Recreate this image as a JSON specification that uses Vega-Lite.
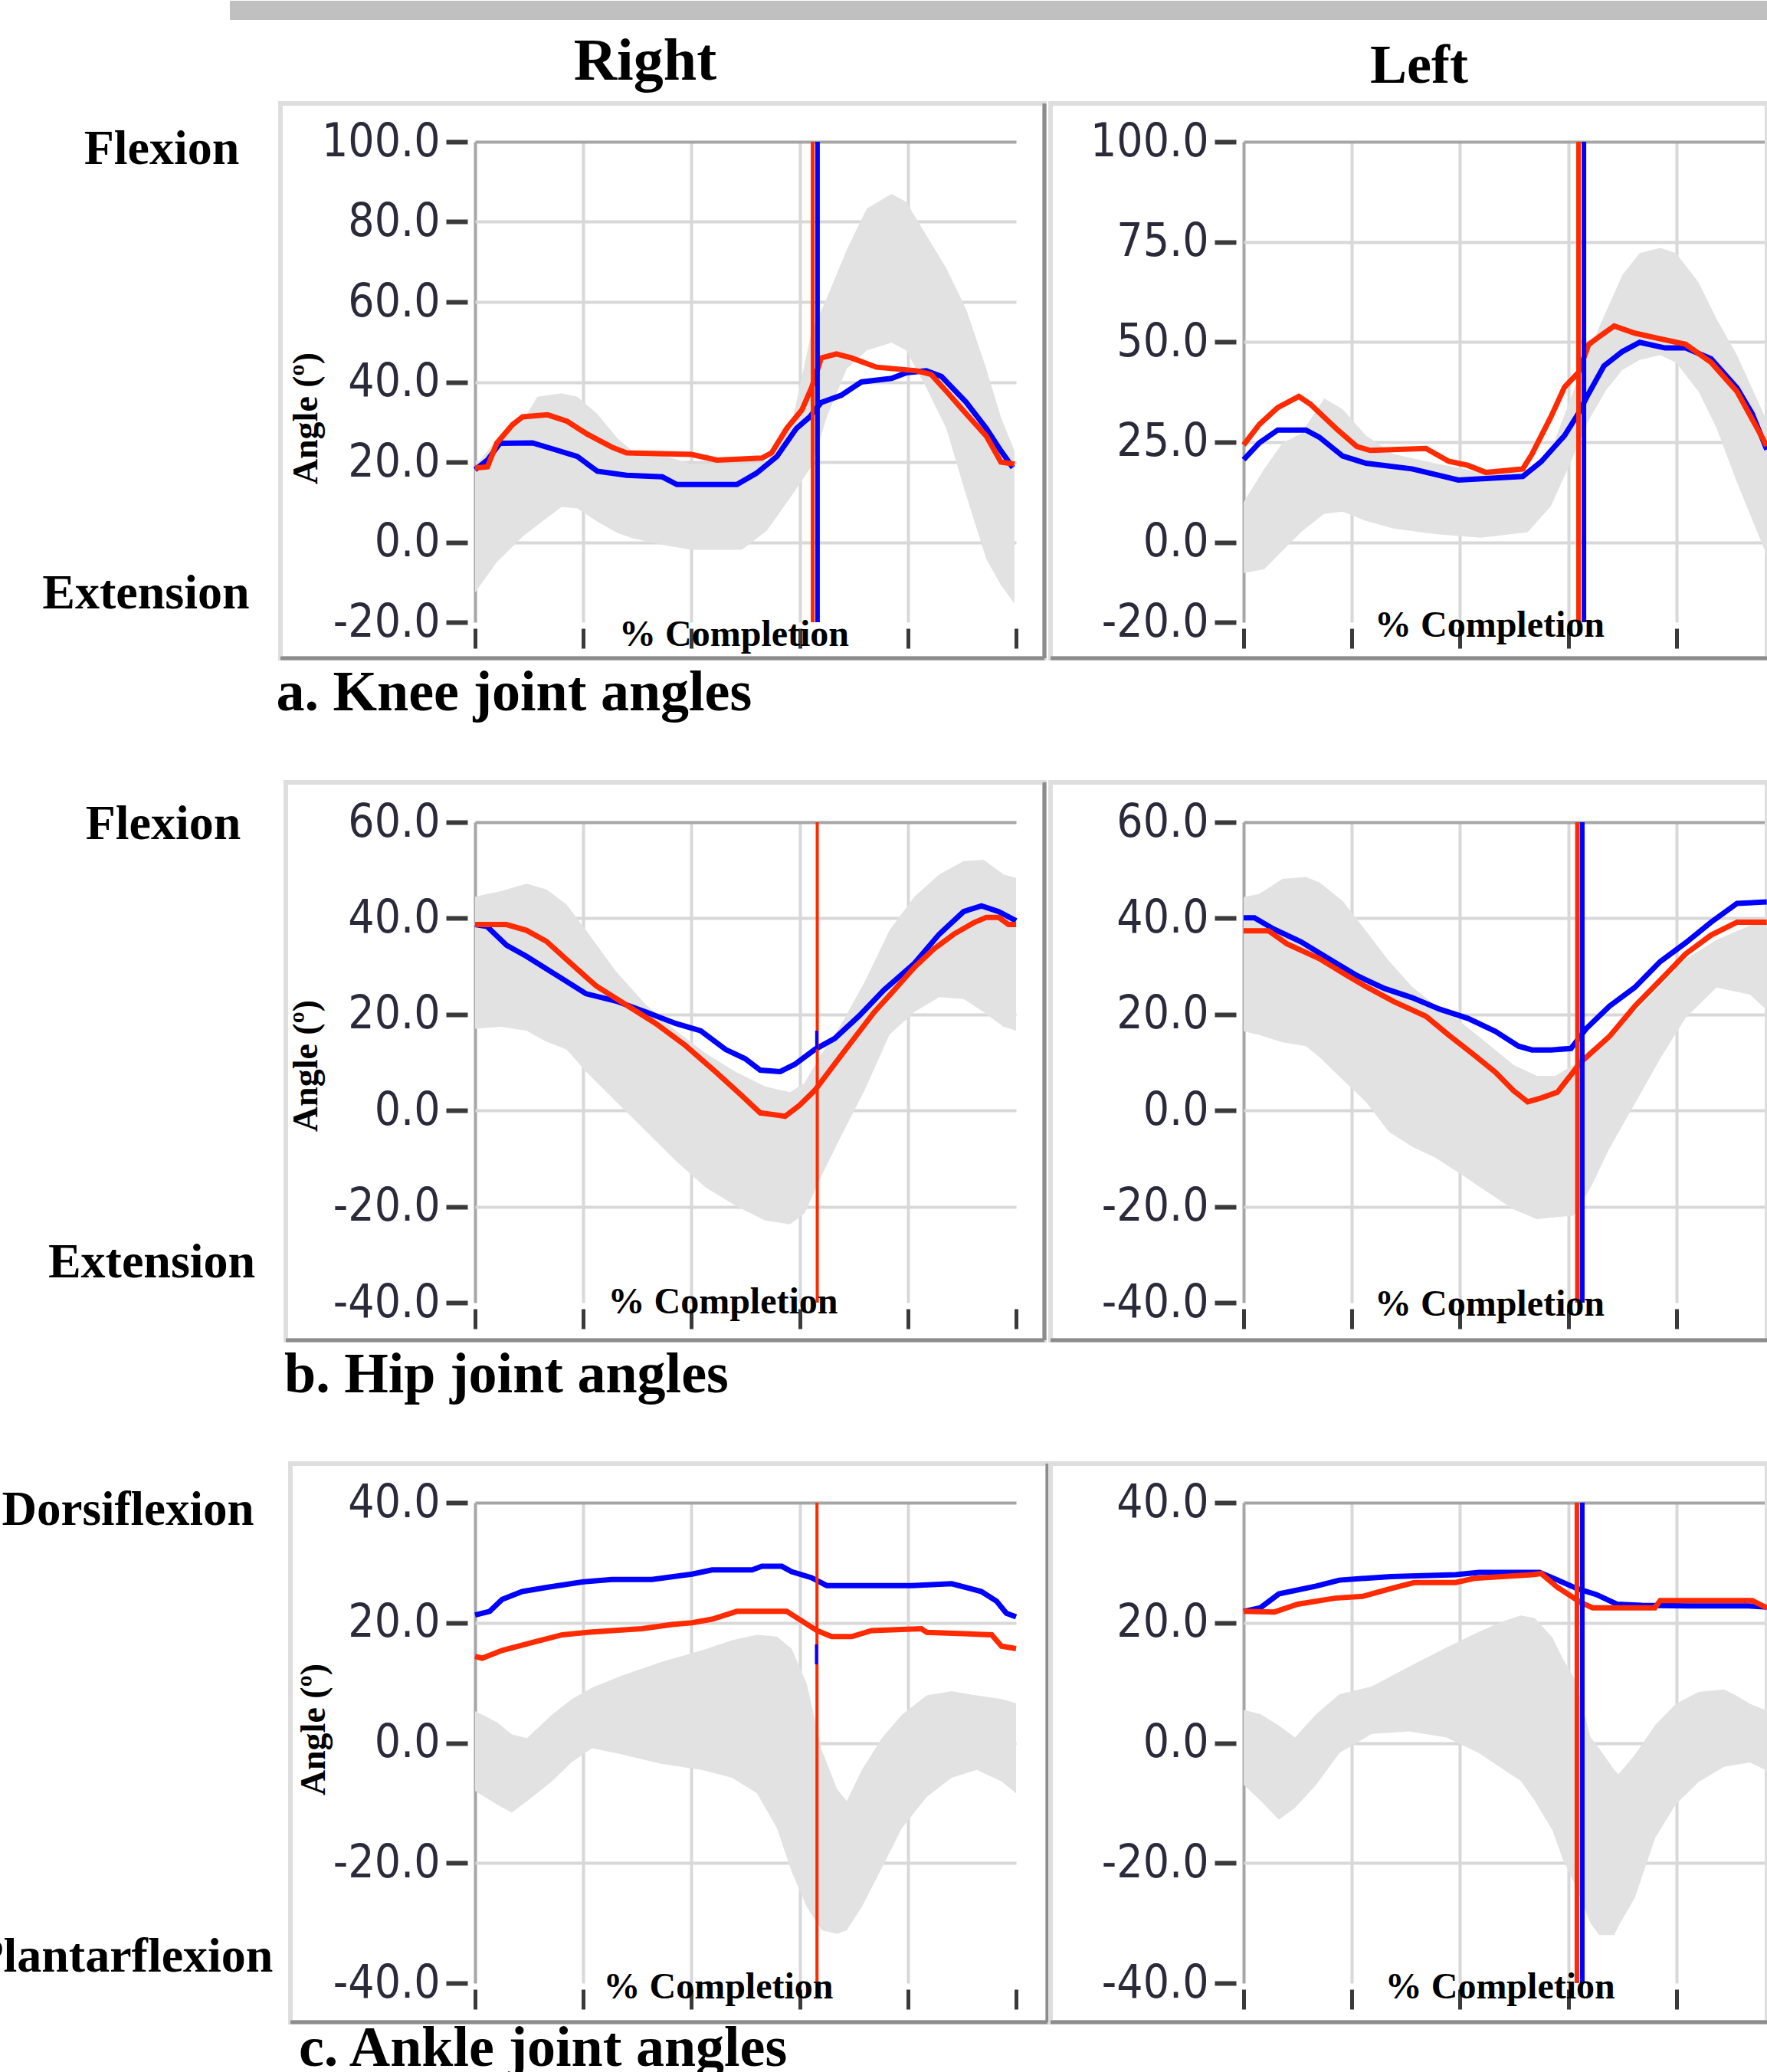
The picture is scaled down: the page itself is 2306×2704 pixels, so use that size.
{
  "$schema": "https://vega.github.io/schema/vega-lite/v6.json",
  "background": "white",
  "padding": {"left": -35, "top": 0, "right": -4, "bottom": -6},
  "config": {"view": {"stroke": null}, "axisY": {"labelFont": "DejaVu Sans Condensed", "labelFontSize": 60, "labelLimit": 0, "labelColor": "#2a2a3a", "labelOverlap": false, "labelPadding": 8}},
  "columns": 2,
  "bounds": "flush",
  "spacing": {"row": 261, "column": 297},
  "datasets": {
    "knee_r_band": [
      {"pct": 0, "lo": -12.6, "hi": 19}, {"pct": 4, "lo": -5, "hi": 25.6}, {"pct": 8.8, "lo": 1.4, "hi": 30.2}, {"pct": 11.5, "lo": 4.2, "hi": 36.3},
      {"pct": 16, "lo": 8.8, "hi": 37.2}, {"pct": 18.9, "lo": 8.4, "hi": 36.3}, {"pct": 22.6, "lo": 5.1, "hi": 32}, {"pct": 26.3, "lo": 2.3, "hi": 26},
      {"pct": 29, "lo": 1, "hi": 22.8}, {"pct": 35.5, "lo": -0.9, "hi": 21.4}, {"pct": 40, "lo": -1.9, "hi": 19.5}, {"pct": 49.3, "lo": -1.9, "hi": 19.5},
      {"pct": 53.9, "lo": 2.8, "hi": 20}, {"pct": 58.5, "lo": 11.6, "hi": 29.3}, {"pct": 62.2, "lo": 19, "hi": 52.6}, {"pct": 65, "lo": 31.2, "hi": 60.9},
      {"pct": 68.7, "lo": 43.3, "hi": 73}, {"pct": 72.4, "lo": 47.9, "hi": 83.3}, {"pct": 77, "lo": 49.8, "hi": 87}, {"pct": 79.7, "lo": 47.9, "hi": 85},
      {"pct": 83.4, "lo": 38.6, "hi": 76.7}, {"pct": 87.1, "lo": 28.4, "hi": 68.4}, {"pct": 90.8, "lo": 11.6, "hi": 58.1}, {"pct": 94.5, "lo": -4.2, "hi": 43.3},
      {"pct": 97.2, "lo": -10.7, "hi": 31.2}, {"pct": 99.7, "lo": -15.3, "hi": 22.8}
    ],
    "knee_r_lines": [
      {"pct": 0, "series": "S1", "angle": 18.1}, {"pct": 2.3, "series": "S1", "angle": 20.5}, {"pct": 4.6, "series": "S1", "angle": 24.7}, {"pct": 10.6, "series": "S1", "angle": 24.8},
      {"pct": 14.3, "series": "S1", "angle": 23.3}, {"pct": 18.9, "series": "S1", "angle": 21.4}, {"pct": 22.6, "series": "S1", "angle": 17.7}, {"pct": 28, "series": "S1", "angle": 16.7},
      {"pct": 34.6, "series": "S1", "angle": 16.3}, {"pct": 37.3, "series": "S1", "angle": 14.4}, {"pct": 48.4, "series": "S1", "angle": 14.4}, {"pct": 52, "series": "S1", "angle": 17.2},
      {"pct": 55.8, "series": "S1", "angle": 21.4}, {"pct": 59.4, "series": "S1", "angle": 28.4}, {"pct": 61.8, "series": "S1", "angle": 31.2}, {"pct": 64, "series": "S1", "angle": 34.9},
      {"pct": 67.7, "series": "S1", "angle": 36.7}, {"pct": 71.4, "series": "S1", "angle": 40}, {"pct": 77, "series": "S1", "angle": 40.9}, {"pct": 79.7, "series": "S1", "angle": 42.3},
      {"pct": 83.4, "series": "S1", "angle": 42.8}, {"pct": 86.2, "series": "S1", "angle": 41.4}, {"pct": 90.8, "series": "S1", "angle": 34.9}, {"pct": 94.5, "series": "S1", "angle": 28.4},
      {"pct": 97.2, "series": "S1", "angle": 22.8}, {"pct": 99.4, "series": "S1", "angle": 18.6},
      {"pct": 0, "series": "S2", "angle": 18.5}, {"pct": 2.3, "series": "S2", "angle": 18.8}, {"pct": 4, "series": "S2", "angle": 24.7}, {"pct": 6.9, "series": "S2", "angle": 29.3},
      {"pct": 8.8, "series": "S2", "angle": 31.3}, {"pct": 13.4, "series": "S2", "angle": 31.8}, {"pct": 17, "series": "S2", "angle": 30.2}, {"pct": 20.7, "series": "S2", "angle": 27},
      {"pct": 25.3, "series": "S2", "angle": 23.7}, {"pct": 28, "series": "S2", "angle": 22.3}, {"pct": 40, "series": "S2", "angle": 21.9}, {"pct": 44.7, "series": "S2", "angle": 20.5},
      {"pct": 53, "series": "S2", "angle": 21}, {"pct": 54.8, "series": "S2", "angle": 22.3}, {"pct": 57.6, "series": "S2", "angle": 28.4}, {"pct": 60.4, "series": "S2", "angle": 33},
      {"pct": 62.2, "series": "S2", "angle": 38.6}, {"pct": 64, "series": "S2", "angle": 46}, {"pct": 66.8, "series": "S2", "angle": 47}, {"pct": 69.6, "series": "S2", "angle": 46},
      {"pct": 74.2, "series": "S2", "angle": 43.7}, {"pct": 81.6, "series": "S2", "angle": 42.8}, {"pct": 84.3, "series": "S2", "angle": 41.9}, {"pct": 87.1, "series": "S2", "angle": 37.7},
      {"pct": 90.8, "series": "S2", "angle": 32}, {"pct": 94.5, "series": "S2", "angle": 26.5}, {"pct": 97.2, "series": "S2", "angle": 20}, {"pct": 99.7, "series": "S2", "angle": 19.5}
    ],
    "knee_l_band": [
      {"pct": 0, "lo": -7.7, "hi": 10}, {"pct": 3.8, "lo": -6.8, "hi": 18.3}, {"pct": 7.2, "lo": -2.1, "hi": 24.8}, {"pct": 10.6, "lo": 2.5, "hi": 27.1},
      {"pct": 14.9, "lo": 7.1, "hi": 35.9}, {"pct": 18.3, "lo": 7.6, "hi": 33.2}, {"pct": 22.6, "lo": 5.3, "hi": 26.6}, {"pct": 27.7, "lo": 3.4, "hi": 22},
      {"pct": 35.4, "lo": 2, "hi": 19.7}, {"pct": 43.9, "lo": 1.1, "hi": 17.4}, {"pct": 52.5, "lo": 2.5, "hi": 18.3}, {"pct": 56.8, "lo": 9, "hi": 22.9},
      {"pct": 60.2, "lo": 19.2, "hi": 35}, {"pct": 63.6, "lo": 30, "hi": 47.1}, {"pct": 67, "lo": 38, "hi": 57.6}, {"pct": 70, "lo": 43, "hi": 66.7},
      {"pct": 73.2, "lo": 45.5, "hi": 72.2}, {"pct": 77, "lo": 46.7, "hi": 73.5}, {"pct": 79.9, "lo": 44.9, "hi": 72.2}, {"pct": 84.1, "lo": 37.6, "hi": 64.9},
      {"pct": 87.4, "lo": 28.5, "hi": 55.8}, {"pct": 91.2, "lo": 14.9, "hi": 46.7}, {"pct": 96.7, "lo": -3.3, "hi": 30.3}
    ],
    "knee_l_lines": [
      {"pct": 0, "series": "S1", "angle": 20.6}, {"pct": 2.9, "series": "S1", "angle": 24.8}, {"pct": 6.3, "series": "S1", "angle": 28}, {"pct": 11.5, "series": "S1", "angle": 28},
      {"pct": 14, "series": "S1", "angle": 26.2}, {"pct": 18.3, "series": "S1", "angle": 21.5}, {"pct": 22.6, "series": "S1", "angle": 19.7}, {"pct": 31.1, "series": "S1", "angle": 18.3},
      {"pct": 35.4, "series": "S1", "angle": 16.9}, {"pct": 39.7, "series": "S1", "angle": 15.5}, {"pct": 51.6, "series": "S1", "angle": 16.4}, {"pct": 55, "series": "S1", "angle": 20.1},
      {"pct": 59.3, "series": "S1", "angle": 26.6}, {"pct": 61.9, "series": "S1", "angle": 32.2}, {"pct": 63.6, "series": "S1", "angle": 36.7}, {"pct": 66.6, "series": "S1", "angle": 44},
      {"pct": 70, "series": "S1", "angle": 47.6}, {"pct": 73.2, "series": "S1", "angle": 49.9}, {"pct": 77.9, "series": "S1", "angle": 48.5}, {"pct": 81.7, "series": "S1", "angle": 48.5},
      {"pct": 86.4, "series": "S1", "angle": 45.8}, {"pct": 91.2, "series": "S1", "angle": 38.5}, {"pct": 94, "series": "S1", "angle": 32.1}, {"pct": 96.7, "series": "S1", "angle": 23.1},
      {"pct": 0, "series": "S2", "angle": 24.3}, {"pct": 2.9, "series": "S2", "angle": 29.4}, {"pct": 6.3, "series": "S2", "angle": 33.6}, {"pct": 10.2, "series": "S2", "angle": 36.4},
      {"pct": 12.3, "series": "S2", "angle": 34.5}, {"pct": 17.4, "series": "S2", "angle": 28}, {"pct": 20.9, "series": "S2", "angle": 23.9}, {"pct": 23.4, "series": "S2", "angle": 22.9},
      {"pct": 33.7, "series": "S2", "angle": 23.4}, {"pct": 37.9, "series": "S2", "angle": 20.2}, {"pct": 41.4, "series": "S2", "angle": 19.2}, {"pct": 44.8, "series": "S2", "angle": 17.4},
      {"pct": 51.6, "series": "S2", "angle": 18.3}, {"pct": 53.3, "series": "S2", "angle": 22}, {"pct": 56.8, "series": "S2", "angle": 31.3}, {"pct": 59.3, "series": "S2", "angle": 38.7},
      {"pct": 61.9, "series": "S2", "angle": 42.4}, {"pct": 63.8, "series": "S2", "angle": 49.4}, {"pct": 65.7, "series": "S2", "angle": 51.3}, {"pct": 68.5, "series": "S2", "angle": 54},
      {"pct": 72.3, "series": "S2", "angle": 52.2}, {"pct": 77, "series": "S2", "angle": 50.8}, {"pct": 81.7, "series": "S2", "angle": 49.4}, {"pct": 86.4, "series": "S2", "angle": 44.9},
      {"pct": 91.2, "series": "S2", "angle": 37.6}, {"pct": 94.9, "series": "S2", "angle": 28.5}, {"pct": 96.7, "series": "S2", "angle": 24}
    ],
    "hip_r_band": [
      {"pct": 0, "lo": 17, "hi": 44.5}, {"pct": 4.9, "lo": 17.4, "hi": 45.7}, {"pct": 9.5, "lo": 16.6, "hi": 47.2}, {"pct": 13.2, "lo": 14.3, "hi": 46},
      {"pct": 16.9, "lo": 12.7, "hi": 42.9}, {"pct": 20.5, "lo": 8.1, "hi": 37.5}, {"pct": 26, "lo": 1.9, "hi": 29}, {"pct": 31.6, "lo": -4.3, "hi": 22},
      {"pct": 37.1, "lo": -10.5, "hi": 16.6}, {"pct": 42.6, "lo": -16, "hi": 11.9}, {"pct": 48.1, "lo": -19.8, "hi": 8.1}, {"pct": 53.6, "lo": -22.9, "hi": 5},
      {"pct": 58.2, "lo": -23.7, "hi": 3.8}, {"pct": 60.9, "lo": -21.4, "hi": 5.7}, {"pct": 63.7, "lo": -14.4, "hi": 11.2}, {"pct": 67.4, "lo": -5.9, "hi": 17.4},
      {"pct": 72, "lo": 4.2, "hi": 26.7}, {"pct": 76.6, "lo": 15.8, "hi": 37.5}, {"pct": 81.2, "lo": 20.5, "hi": 44.5}, {"pct": 85.8, "lo": 23.6, "hi": 49.1},
      {"pct": 90.3, "lo": 23.2, "hi": 51.9}, {"pct": 94, "lo": 20.5, "hi": 52.2}, {"pct": 97.7, "lo": 17.4, "hi": 49.1}, {"pct": 100, "lo": 16.6, "hi": 48.4}
    ],
    "hip_r_lines": [
      {"pct": 0, "series": "S1", "angle": 38.7}, {"pct": 2.2, "series": "S1", "angle": 38.3}, {"pct": 5.8, "series": "S1", "angle": 34.4}, {"pct": 9.5, "series": "S1", "angle": 32.1},
      {"pct": 15, "series": "S1", "angle": 28.2}, {"pct": 20.5, "series": "S1", "angle": 24.3}, {"pct": 26, "series": "S1", "angle": 22.8}, {"pct": 31.6, "series": "S1", "angle": 20.5},
      {"pct": 37.1, "series": "S1", "angle": 18.1}, {"pct": 41.7, "series": "S1", "angle": 16.6}, {"pct": 46.3, "series": "S1", "angle": 12.7}, {"pct": 49.9, "series": "S1", "angle": 10.8},
      {"pct": 52.7, "series": "S1", "angle": 8.4}, {"pct": 56.4, "series": "S1", "angle": 8.1}, {"pct": 59.1, "series": "S1", "angle": 9.6}, {"pct": 62.8, "series": "S1", "angle": 12.7},
      {"pct": 66.5, "series": "S1", "angle": 15}, {"pct": 71, "series": "S1", "angle": 19.7}, {"pct": 75.6, "series": "S1", "angle": 25.1}, {"pct": 81.1, "series": "S1", "angle": 30.5},
      {"pct": 85.8, "series": "S1", "angle": 36.7}, {"pct": 90.3, "series": "S1", "angle": 41.4}, {"pct": 93.6, "series": "S1", "angle": 42.6}, {"pct": 96.8, "series": "S1", "angle": 41.4},
      {"pct": 100, "series": "S1", "angle": 39.5},
      {"pct": 0, "series": "S2", "angle": 38.7}, {"pct": 5.8, "series": "S2", "angle": 38.7}, {"pct": 9.5, "series": "S2", "angle": 37.5}, {"pct": 13.2, "series": "S2", "angle": 35.2},
      {"pct": 17.8, "series": "S2", "angle": 30.5}, {"pct": 22.4, "series": "S2", "angle": 25.9}, {"pct": 27.9, "series": "S2", "angle": 22}, {"pct": 33.4, "series": "S2", "angle": 18.1},
      {"pct": 38.9, "series": "S2", "angle": 13.5}, {"pct": 44.4, "series": "S2", "angle": 8.1}, {"pct": 49, "series": "S2", "angle": 3.4}, {"pct": 52.7, "series": "S2", "angle": -0.5},
      {"pct": 57.3, "series": "S2", "angle": -1.2}, {"pct": 60, "series": "S2", "angle": 1.1}, {"pct": 62.8, "series": "S2", "angle": 4.2}, {"pct": 68.3, "series": "S2", "angle": 12.4},
      {"pct": 73.8, "series": "S2", "angle": 20.5}, {"pct": 77.5, "series": "S2", "angle": 25.1}, {"pct": 81.2, "series": "S2", "angle": 29.8}, {"pct": 84.8, "series": "S2", "angle": 33.6},
      {"pct": 88.5, "series": "S2", "angle": 36.7}, {"pct": 92.2, "series": "S2", "angle": 39.1}, {"pct": 94.5, "series": "S2", "angle": 40.2}, {"pct": 96.8, "series": "S2", "angle": 40.2},
      {"pct": 98.6, "series": "S2", "angle": 38.7}, {"pct": 100, "series": "S2", "angle": 38.7}
    ],
    "hip_l_band": [
      {"pct": 0, "lo": 16.5, "hi": 44.4}, {"pct": 2.9, "lo": 15.7, "hi": 45.1}, {"pct": 7.2, "lo": 14.2, "hi": 48.2}, {"pct": 11.5, "lo": 13.4, "hi": 48.6},
      {"pct": 14, "lo": 11.1, "hi": 47.5}, {"pct": 18.3, "lo": 6.4, "hi": 43.6}, {"pct": 22.6, "lo": 1.8, "hi": 37.4}, {"pct": 26.8, "lo": -4.4, "hi": 31.2},
      {"pct": 31.1, "lo": -7.5, "hi": 25.8}, {"pct": 35.4, "lo": -9.8, "hi": 21.9}, {"pct": 39.7, "lo": -12.9, "hi": 18.8}, {"pct": 44.8, "lo": -16.8, "hi": 14.2},
      {"pct": 49.9, "lo": -20.6, "hi": 9.5}, {"pct": 54.2, "lo": -22.6, "hi": 7.2}, {"pct": 57.6, "lo": -22.2, "hi": 7.2}, {"pct": 61, "lo": -21.9, "hi": 9.5},
      {"pct": 64.3, "lo": -15.7, "hi": 13}, {"pct": 67.6, "lo": -7.9, "hi": 15.4}, {"pct": 72.3, "lo": 1.4, "hi": 20.5}, {"pct": 77, "lo": 10.8, "hi": 26},
      {"pct": 81.7, "lo": 19.3, "hi": 31.5}, {"pct": 87.4, "lo": 25.6, "hi": 35.5}, {"pct": 93.6, "lo": 24.1, "hi": 38.5}, {"pct": 96.7, "lo": 20.9, "hi": 39}
    ],
    "hip_l_lines": [
      {"pct": 0, "series": "S1", "angle": 40.1}, {"pct": 2, "series": "S1", "angle": 40.1}, {"pct": 5.5, "series": "S1", "angle": 37.8}, {"pct": 10.6, "series": "S1", "angle": 35.1},
      {"pct": 15.7, "series": "S1", "angle": 31.6}, {"pct": 20.9, "series": "S1", "angle": 28.1}, {"pct": 26, "series": "S1", "angle": 25.4}, {"pct": 31.1, "series": "S1", "angle": 23.5},
      {"pct": 36.2, "series": "S1", "angle": 21.1}, {"pct": 41.4, "series": "S1", "angle": 19.2}, {"pct": 46.5, "series": "S1", "angle": 16.5}, {"pct": 50.8, "series": "S1", "angle": 13.4},
      {"pct": 53.3, "series": "S1", "angle": 12.6}, {"pct": 56.8, "series": "S1", "angle": 12.6}, {"pct": 60.5, "series": "S1", "angle": 12.9}, {"pct": 63.3, "series": "S1", "angle": 17},
      {"pct": 67.6, "series": "S1", "angle": 21.7}, {"pct": 72.3, "series": "S1", "angle": 25.6}, {"pct": 77, "series": "S1", "angle": 31}, {"pct": 81.7, "series": "S1", "angle": 34.9},
      {"pct": 86.4, "series": "S1", "angle": 39.2}, {"pct": 91.2, "series": "S1", "angle": 43.1}, {"pct": 96.7, "series": "S1", "angle": 43.4},
      {"pct": 0, "series": "S2", "angle": 37.4}, {"pct": 4.6, "series": "S2", "angle": 37.4}, {"pct": 8, "series": "S2", "angle": 34.7}, {"pct": 14, "series": "S2", "angle": 31.6},
      {"pct": 19.1, "series": "S2", "angle": 28.1}, {"pct": 22.6, "series": "S2", "angle": 25.8}, {"pct": 27.7, "series": "S2", "angle": 22.7}, {"pct": 33.7, "series": "S2", "angle": 19.6},
      {"pct": 37.9, "series": "S2", "angle": 15.7}, {"pct": 42.2, "series": "S2", "angle": 11.9}, {"pct": 46.5, "series": "S2", "angle": 8}, {"pct": 49.9, "series": "S2", "angle": 4.1},
      {"pct": 52.5, "series": "S2", "angle": 1.8}, {"pct": 55, "series": "S2", "angle": 2.6}, {"pct": 58, "series": "S2", "angle": 3.8}, {"pct": 62.3, "series": "S2", "angle": 10},
      {"pct": 67.6, "series": "S2", "angle": 15.4}, {"pct": 72.3, "series": "S2", "angle": 21.7}, {"pct": 77, "series": "S2", "angle": 27.1}, {"pct": 81.7, "series": "S2", "angle": 32.6},
      {"pct": 86.4, "series": "S2", "angle": 36.5}, {"pct": 91.2, "series": "S2", "angle": 39.2}, {"pct": 96.7, "series": "S2", "angle": 39.2}
    ],
    "ankle_r_band": [
      {"pct": 0, "lo": -8, "hi": 5.3}, {"pct": 4.1, "lo": -10.3, "hi": 3.4}, {"pct": 6.8, "lo": -11.6, "hi": 1.4}, {"pct": 9.6, "lo": -9.7, "hi": 0.8},
      {"pct": 14.2, "lo": -6.4, "hi": 4.7}, {"pct": 17.9, "lo": -3.2, "hi": 7.3}, {"pct": 21.6, "lo": -0.9, "hi": 9.2}, {"pct": 27.1, "lo": -1.9, "hi": 11.2},
      {"pct": 34.5, "lo": -3.5, "hi": 13.5}, {"pct": 41.9, "lo": -4.5, "hi": 15.4}, {"pct": 47.5, "lo": -5.8, "hi": 17.1}, {"pct": 52.1, "lo": -8.4, "hi": 18},
      {"pct": 55.8, "lo": -14.2, "hi": 17.7}, {"pct": 58.5, "lo": -21.4, "hi": 15.7}, {"pct": 61.3, "lo": -27.3, "hi": 9.9}, {"pct": 64.1, "lo": -31.2, "hi": -1.2},
      {"pct": 66.9, "lo": -31.8, "hi": -7.7}, {"pct": 68.7, "lo": -31.2, "hi": -9.7}, {"pct": 71.5, "lo": -27.3, "hi": -4.5}, {"pct": 75.2, "lo": -20.8, "hi": 0.8},
      {"pct": 78.9, "lo": -14.2, "hi": 4.7}, {"pct": 83.5, "lo": -9, "hi": 7.9}, {"pct": 88.1, "lo": -5.8, "hi": 8.6}, {"pct": 92.7, "lo": -4.5, "hi": 7.9},
      {"pct": 97.3, "lo": -6.4, "hi": 7.3}, {"pct": 100, "lo": -8.4, "hi": 6.6}
    ],
    "ankle_r_lines": [
      {"pct": 0, "series": "S1", "angle": 21.3}, {"pct": 2.7, "series": "S1", "angle": 21.9}, {"pct": 5, "series": "S1", "angle": 23.9}, {"pct": 8.7, "series": "S1", "angle": 25.2},
      {"pct": 13.3, "series": "S1", "angle": 25.9}, {"pct": 19.8, "series": "S1", "angle": 26.8}, {"pct": 25.3, "series": "S1", "angle": 27.2}, {"pct": 32.7, "series": "S1", "angle": 27.2},
      {"pct": 40.1, "series": "S1", "angle": 28.1}, {"pct": 43.8, "series": "S1", "angle": 28.8}, {"pct": 51.2, "series": "S1", "angle": 28.8}, {"pct": 53, "series": "S1", "angle": 29.4},
      {"pct": 56.7, "series": "S1", "angle": 29.4}, {"pct": 58.5, "series": "S1", "angle": 28.5}, {"pct": 62.2, "series": "S1", "angle": 27.5}, {"pct": 65, "series": "S1", "angle": 26.2},
      {"pct": 80.7, "series": "S1", "angle": 26.2}, {"pct": 88.1, "series": "S1", "angle": 26.5}, {"pct": 93.6, "series": "S1", "angle": 25.2}, {"pct": 96.4, "series": "S1", "angle": 23.6},
      {"pct": 98.2, "series": "S1", "angle": 21.6}, {"pct": 100, "series": "S1", "angle": 21},
      {"pct": 0, "series": "S2", "angle": 14.4}, {"pct": 1.3, "series": "S2", "angle": 14.1}, {"pct": 5, "series": "S2", "angle": 15.4}, {"pct": 10.5, "series": "S2", "angle": 16.7},
      {"pct": 16.1, "series": "S2", "angle": 18}, {"pct": 20.7, "series": "S2", "angle": 18.4}, {"pct": 25.3, "series": "S2", "angle": 18.7}, {"pct": 30.8, "series": "S2", "angle": 19},
      {"pct": 36.4, "series": "S2", "angle": 19.7}, {"pct": 40.1, "series": "S2", "angle": 20}, {"pct": 43.8, "series": "S2", "angle": 20.6}, {"pct": 48.4, "series": "S2", "angle": 21.9},
      {"pct": 57.6, "series": "S2", "angle": 21.9}, {"pct": 60.4, "series": "S2", "angle": 20.3}, {"pct": 63.2, "series": "S2", "angle": 18.7}, {"pct": 65.9, "series": "S2", "angle": 17.7},
      {"pct": 69.6, "series": "S2", "angle": 17.7}, {"pct": 73.3, "series": "S2", "angle": 18.7}, {"pct": 82.5, "series": "S2", "angle": 19}, {"pct": 83.5, "series": "S2", "angle": 18.4},
      {"pct": 95.5, "series": "S2", "angle": 18}, {"pct": 97.3, "series": "S2", "angle": 16.1}, {"pct": 100, "series": "S2", "angle": 15.7}
    ],
    "ankle_l_band": [
      {"pct": 0, "lo": -7, "hi": 5.5}, {"pct": 3.1, "lo": -9.6, "hi": 4.8}, {"pct": 6.5, "lo": -12.8, "hi": 2.9}, {"pct": 9.5, "lo": -10.8, "hi": 0.9},
      {"pct": 13.4, "lo": -7, "hi": 4.8}, {"pct": 17.7, "lo": -1.7, "hi": 8.1}, {"pct": 23.7, "lo": 1.5, "hi": 9.4}, {"pct": 30.6, "lo": 1.9, "hi": 12.7},
      {"pct": 37.5, "lo": 0.9, "hi": 15.9}, {"pct": 43.5, "lo": -1.7, "hi": 18.5}, {"pct": 47.8, "lo": -4.3, "hi": 20.2}, {"pct": 51.2, "lo": -6.3, "hi": 21.2},
      {"pct": 53.8, "lo": -9.6, "hi": 20.8}, {"pct": 57.1, "lo": -14.6, "hi": 17.5}, {"pct": 59, "lo": -19.4, "hi": 14}, {"pct": 61.4, "lo": -23.9, "hi": 10.3},
      {"pct": 64.1, "lo": -30, "hi": 1}, {"pct": 65.7, "lo": -32, "hi": -0.9}, {"pct": 68.5, "lo": -32, "hi": -4.5}, {"pct": 69.3, "lo": -30.5, "hi": -5.2},
      {"pct": 72.3, "lo": -25.8, "hi": -2}, {"pct": 76.1, "lo": -15.8, "hi": 3}, {"pct": 79.9, "lo": -10.2, "hi": 6.5}, {"pct": 84.1, "lo": -6.5, "hi": 8.5},
      {"pct": 88.8, "lo": -4, "hi": 8.9}, {"pct": 91.2, "lo": -3.6, "hi": 7.8}, {"pct": 93.6, "lo": -3.3, "hi": 6.5}, {"pct": 96.7, "lo": -4.6, "hi": 5.4}
    ],
    "ankle_l_lines": [
      {"pct": 0, "series": "S1", "angle": 21.9}, {"pct": 3.1, "series": "S1", "angle": 22.5}, {"pct": 6.5, "series": "S1", "angle": 24.8}, {"pct": 13.4, "series": "S1", "angle": 26.1},
      {"pct": 17.7, "series": "S1", "angle": 27.1}, {"pct": 27.2, "series": "S1", "angle": 27.7}, {"pct": 39.2, "series": "S1", "angle": 28}, {"pct": 43.5, "series": "S1", "angle": 28.4},
      {"pct": 54.7, "series": "S1", "angle": 28.4}, {"pct": 58.1, "series": "S1", "angle": 27.1}, {"pct": 61.6, "series": "S1", "angle": 25.7}, {"pct": 65.2, "series": "S1", "angle": 24.7},
      {"pct": 69, "series": "S1", "angle": 23.1}, {"pct": 73.6, "series": "S1", "angle": 22.9}, {"pct": 82.2, "series": "S1", "angle": 22.8}, {"pct": 93.4, "series": "S1", "angle": 22.8},
      {"pct": 96.7, "series": "S1", "angle": 22.6},
      {"pct": 0, "series": "S2", "angle": 21.9}, {"pct": 5.7, "series": "S2", "angle": 21.8}, {"pct": 10, "series": "S2", "angle": 23.1}, {"pct": 16.9, "series": "S2", "angle": 24.1},
      {"pct": 22, "series": "S2", "angle": 24.4}, {"pct": 27.2, "series": "S2", "angle": 25.7}, {"pct": 31.5, "series": "S2", "angle": 26.7}, {"pct": 39.2, "series": "S2", "angle": 26.7},
      {"pct": 42.6, "series": "S2", "angle": 27.4}, {"pct": 47.8, "series": "S2", "angle": 27.7}, {"pct": 53.4, "series": "S2", "angle": 28}, {"pct": 55, "series": "S2", "angle": 28.2},
      {"pct": 58, "series": "S2", "angle": 25.9}, {"pct": 62.3, "series": "S2", "angle": 23.4}, {"pct": 64.5, "series": "S2", "angle": 22.5}, {"pct": 76, "series": "S2", "angle": 22.5},
      {"pct": 77, "series": "S2", "angle": 23.7}, {"pct": 94, "series": "S2", "angle": 23.7}, {"pct": 96.7, "series": "S2", "angle": 22.5}
    ]
  },
  "concat": [
    {
      "width": 706, "height": 627,
      "layer": [
        {"data": {"values": [{}]}, "mark": {"type": "rect", "color": "#c0c0c0"}, "encoding": {"x": {"datum": -45.33}, "x2": {"datum": 238.81}, "y": {"datum": 135.22}, "y2": {"datum": 130.43}}},
        {"data": {"values": [{}]}, "mark": {"type": "rect", "fill": "transparent", "stroke": "#dedede", "strokeWidth": 6}, "encoding": {"x": {"datum": -35.98}, "x2": {"datum": 105.24}, "y": {"datum": 109.57}, "y2": {"datum": -29.0}}},
        {"data": {"values": [{}]}, "mark": {"type": "rule", "color": "#8c8c8c", "strokeWidth": 5}, "encoding": {"x": {"datum": -35.98}, "x2": {"datum": 105.24}, "y": {"datum": -29.0}}},
        {"data": {"values": [{}]}, "mark": {"type": "rule", "color": "#8c8c8c", "strokeWidth": 5}, "encoding": {"x": {"datum": 105.24}, "y": {"datum": 109.57}, "y2": {"datum": -29.0}}},
        {"data": {"name": "knee_r_band"}, "mark": {"type": "area", "color": "#e2e2e2"},
         "encoding": {
           "x": {"field": "pct", "type": "quantitative", "scale": {"domain": [0, 100], "nice": false, "zero": false},
                 "axis": {"values": [0, 20, 40, 60, 80, 100], "labels": false, "title": null, "domain": false, "offset": 8, "tickSize": 26, "tickWidth": 5, "tickColor": "#3a3a3a", "grid": true, "gridWidth": 4,
                          "gridColor": {"condition": [{"test": "datum.value === 0", "value": "#a6a6a6"}, {"test": "datum.value === 100", "value": "transparent"}], "value": "#d8d8d8"}}},
           "y": {"field": "lo", "type": "quantitative", "scale": {"domain": [-20, 100], "nice": false, "zero": false},
                 "axis": {"values": [-20, 0, 20, 40, 60, 80, 100], "labelExpr": "(datum.value < 0 ? '-' : '') + format(abs(datum.value), '.1f')", "title": null, "domain": false, "offset": 10, "tickSize": 28, "tickWidth": 6, "tickColor": "#3a3a3a", "grid": true, "gridWidth": 4,
                          "gridColor": {"condition": [{"test": "datum.value === 100", "value": "#a6a6a6"}, {"test": "datum.value === -20", "value": "transparent"}], "value": "#d8d8d8"}}},
           "y2": {"field": "hi"}}},
        {"data": {"name": "knee_r_lines"}, "transform": [{"filter": "datum.series === 'S1'"}], "mark": {"type": "line", "color": "#0000ff", "strokeWidth": 7}, "encoding": {"x": {"field": "pct", "type": "quantitative"}, "y": {"field": "angle", "type": "quantitative"}}},
        {"data": {"name": "knee_r_lines"}, "transform": [{"filter": "datum.series === 'S2'"}], "mark": {"type": "line", "color": "#ff2a00", "strokeWidth": 7}, "encoding": {"x": {"field": "pct", "type": "quantitative"}, "y": {"field": "angle", "type": "quantitative"}}},
        {"data": {"values": [{}]}, "mark": {"type": "rule", "color": "#ff2a00", "strokeWidth": 5}, "encoding": {"x": {"datum": 62.4}}},
        {"data": {"values": [{}]}, "mark": {"type": "rule", "color": "#0000ff", "strokeWidth": 6}, "encoding": {"x": {"datum": 63.3}}},
        {"data": {"values": [{}]}, "mark": {"type": "text", "font": "Liberation Serif", "fontWeight": "bold", "fontSize": 78, "align": "center", "baseline": "alphabetic", "color": "black"}, "encoding": {"x": {"datum": 31.44}, "y": {"datum": 115.5}, "text": {"value": "Right"}}},
        {"data": {"values": [{}]}, "mark": {"type": "text", "font": "Liberation Serif", "fontWeight": "bold", "fontSize": 64, "align": "center", "baseline": "alphabetic", "color": "black"}, "encoding": {"x": {"datum": -57.93}, "y": {"datum": 94.45}, "text": {"value": "Flexion"}}},
        {"data": {"values": [{}]}, "mark": {"type": "text", "font": "Liberation Serif", "fontWeight": "bold", "fontSize": 64, "align": "center", "baseline": "alphabetic", "color": "black"}, "encoding": {"x": {"datum": -60.84}, "y": {"datum": -16.56}, "text": {"value": "Extension"}}},
        {"data": {"values": [{}]}, "mark": {"type": "text", "font": "Liberation Serif", "fontWeight": "bold", "fontSize": 74, "align": "left", "baseline": "alphabetic", "color": "black"}, "encoding": {"x": {"datum": -36.76}, "y": {"datum": -42.01}, "text": {"value": "a. Knee joint angles"}}},
        {"data": {"values": [{}]}, "mark": {"type": "text", "font": "Liberation Serif", "fontWeight": "bold", "fontSize": 46, "align": "center", "baseline": "middle", "angle": 270, "color": "black"}, "encoding": {"x": {"datum": -31.16}, "y": {"datum": 30.9}, "text": {"value": "Angle (º)"}}},
        {"data": {"values": [{}]}, "mark": {"type": "text", "font": "Liberation Serif", "fontWeight": "bold", "fontSize": 48, "align": "center", "baseline": "alphabetic", "color": "black"}, "encoding": {"x": {"datum": 47.88}, "y": {"datum": -25.93}, "text": {"value": "% Completion"}}}
      ]
    },
    {
      "width": 683, "height": 627,
      "layer": [
        {"data": {"values": [{}]}, "mark": {"type": "rect", "fill": "transparent", "stroke": "#dedede", "strokeWidth": 6}, "encoding": {"x": {"datum": -35.69}, "x2": {"datum": 96.74}, "y": {"datum": 109.57}, "y2": {"datum": -29.0}}},
        {"data": {"values": [{}]}, "mark": {"type": "rule", "color": "#8c8c8c", "strokeWidth": 5}, "encoding": {"x": {"datum": -35.69}, "x2": {"datum": 96.74}, "y": {"datum": -29.0}}},
        {"data": {"name": "knee_l_band"}, "mark": {"type": "area", "color": "#e2e2e2"},
         "encoding": {
           "x": {"field": "pct", "type": "quantitative", "scale": {"domain": [0, 96.74], "nice": false, "zero": false},
                 "axis": {"values": [0, 20, 40, 60, 80], "labels": false, "title": null, "domain": false, "offset": 8, "tickSize": 26, "tickWidth": 5, "tickColor": "#3a3a3a", "grid": true, "gridWidth": 4,
                          "gridColor": {"condition": {"test": "datum.value === 0", "value": "#a6a6a6"}, "value": "#d8d8d8"}}},
           "y": {"field": "lo", "type": "quantitative", "scale": {"domain": [-20, 100], "nice": false, "zero": false},
                 "axis": {"values": [-20, 0, 25, 50, 75, 100], "labelExpr": "(datum.value < 0 ? '-' : '') + format(abs(datum.value), '.1f')", "title": null, "domain": false, "offset": 10, "tickSize": 28, "tickWidth": 6, "tickColor": "#3a3a3a", "grid": true, "gridWidth": 4,
                          "gridColor": {"condition": [{"test": "datum.value === 100", "value": "#a6a6a6"}, {"test": "datum.value === -20", "value": "transparent"}], "value": "#d8d8d8"}}},
           "y2": {"field": "hi"}}},
        {"data": {"name": "knee_l_lines"}, "transform": [{"filter": "datum.series === 'S1'"}], "mark": {"type": "line", "color": "#0000ff", "strokeWidth": 7}, "encoding": {"x": {"field": "pct", "type": "quantitative"}, "y": {"field": "angle", "type": "quantitative"}}},
        {"data": {"name": "knee_l_lines"}, "transform": [{"filter": "datum.series === 'S2'"}], "mark": {"type": "line", "color": "#ff2a00", "strokeWidth": 7}, "encoding": {"x": {"field": "pct", "type": "quantitative"}, "y": {"field": "angle", "type": "quantitative"}}},
        {"data": {"values": [{}]}, "mark": {"type": "rule", "color": "#ff2a00", "strokeWidth": 6}, "encoding": {"x": {"datum": 61.9}}},
        {"data": {"values": [{}]}, "mark": {"type": "rule", "color": "#0000ff", "strokeWidth": 6}, "encoding": {"x": {"datum": 62.9}}},
        {"data": {"values": [{}]}, "mark": {"type": "text", "font": "Liberation Serif", "fontWeight": "bold", "fontSize": 72, "align": "center", "baseline": "alphabetic", "color": "black"}, "encoding": {"x": {"datum": 32.44}, "y": {"datum": 114.74}, "text": {"value": "Left"}}},
        {"data": {"values": [{}]}, "mark": {"type": "text", "font": "Liberation Serif", "fontWeight": "bold", "fontSize": 48, "align": "center", "baseline": "alphabetic", "color": "black"}, "encoding": {"x": {"datum": 45.47}, "y": {"datum": -23.64}, "text": {"value": "% Completion"}}}
      ]
    },
    {
      "width": 706, "height": 627,
      "layer": [
        {"data": {"values": [{}]}, "mark": {"type": "rect", "fill": "transparent", "stroke": "#dedede", "strokeWidth": 6}, "encoding": {"x": {"datum": -34.99}, "x2": {"datum": 105.24}, "y": {"datum": 68.29}, "y2": {"datum": -47.81}}},
        {"data": {"values": [{}]}, "mark": {"type": "rule", "color": "#8c8c8c", "strokeWidth": 5}, "encoding": {"x": {"datum": -34.99}, "x2": {"datum": 105.24}, "y": {"datum": -47.81}}},
        {"data": {"values": [{}]}, "mark": {"type": "rule", "color": "#8c8c8c", "strokeWidth": 5}, "encoding": {"x": {"datum": 105.24}, "y": {"datum": 68.29}, "y2": {"datum": -47.81}}},
        {"data": {"name": "hip_r_band"}, "mark": {"type": "area", "color": "#e2e2e2"},
         "encoding": {
           "x": {"field": "pct", "type": "quantitative", "scale": {"domain": [0, 100], "nice": false, "zero": false},
                 "axis": {"values": [0, 20, 40, 60, 80, 100], "labels": false, "title": null, "domain": false, "offset": 8, "tickSize": 26, "tickWidth": 5, "tickColor": "#3a3a3a", "grid": true, "gridWidth": 4,
                          "gridColor": {"condition": [{"test": "datum.value === 0", "value": "#a6a6a6"}, {"test": "datum.value === 100", "value": "transparent"}], "value": "#d8d8d8"}}},
           "y": {"field": "lo", "type": "quantitative", "scale": {"domain": [-40, 60], "nice": false, "zero": false},
                 "axis": {"values": [-40, -20, 0, 20, 40, 60], "labelExpr": "(datum.value < 0 ? '-' : '') + format(abs(datum.value), '.1f')", "title": null, "domain": false, "offset": 10, "tickSize": 28, "tickWidth": 6, "tickColor": "#3a3a3a", "grid": true, "gridWidth": 4,
                          "gridColor": {"condition": [{"test": "datum.value === 60", "value": "#a6a6a6"}, {"test": "datum.value === -40", "value": "transparent"}], "value": "#d8d8d8"}}},
           "y2": {"field": "hi"}}},
        {"data": {"name": "hip_r_lines"}, "transform": [{"filter": "datum.series === 'S1'"}], "mark": {"type": "line", "color": "#0000ff", "strokeWidth": 7}, "encoding": {"x": {"field": "pct", "type": "quantitative"}, "y": {"field": "angle", "type": "quantitative"}}},
        {"data": {"name": "hip_r_lines"}, "transform": [{"filter": "datum.series === 'S2'"}], "mark": {"type": "line", "color": "#ff2a00", "strokeWidth": 7}, "encoding": {"x": {"field": "pct", "type": "quantitative"}, "y": {"field": "angle", "type": "quantitative"}}},
        {"data": {"values": [{}]}, "mark": {"type": "rule", "color": "#ff2a00", "strokeWidth": 4}, "encoding": {"x": {"datum": 63.25}}},
        {"data": {"values": [{}]}, "mark": {"type": "rule", "color": "#0000ff", "strokeWidth": 4}, "encoding": {"x": {"datum": 63.15}, "y": {"datum": 16.6}, "y2": {"datum": 12.7}}},
        {"data": {"values": [{}]}, "mark": {"type": "text", "font": "Liberation Serif", "fontWeight": "bold", "fontSize": 64, "align": "center", "baseline": "alphabetic", "color": "black"}, "encoding": {"x": {"datum": -57.65}, "y": {"datum": 56.49}, "text": {"value": "Flexion"}}},
        {"data": {"values": [{}]}, "mark": {"type": "text", "font": "Liberation Serif", "fontWeight": "bold", "fontSize": 64, "align": "center", "baseline": "alphabetic", "color": "black"}, "encoding": {"x": {"datum": -59.77}, "y": {"datum": -34.74}, "text": {"value": "Extension"}}},
        {"data": {"values": [{}]}, "mark": {"type": "text", "font": "Liberation Serif", "fontWeight": "bold", "fontSize": 74, "align": "left", "baseline": "alphabetic", "color": "black"}, "encoding": {"x": {"datum": -35.27}, "y": {"datum": -58.66}, "text": {"value": "b. Hip joint angles"}}},
        {"data": {"values": [{}]}, "mark": {"type": "text", "font": "Liberation Serif", "fontWeight": "bold", "fontSize": 46, "align": "center", "baseline": "middle", "angle": 270, "color": "black"}, "encoding": {"x": {"datum": -31.16}, "y": {"datum": 9.28}, "text": {"value": "Angle (º)"}}},
        {"data": {"values": [{}]}, "mark": {"type": "text", "font": "Liberation Serif", "fontWeight": "bold", "fontSize": 48, "align": "center", "baseline": "alphabetic", "color": "black"}, "encoding": {"x": {"datum": 45.82}, "y": {"datum": -42.23}, "text": {"value": "% Completion"}}}
      ]
    },
    {
      "width": 683, "height": 627,
      "layer": [
        {"data": {"values": [{}]}, "mark": {"type": "rect", "fill": "transparent", "stroke": "#dedede", "strokeWidth": 6}, "encoding": {"x": {"datum": -35.69}, "x2": {"datum": 96.74}, "y": {"datum": 68.29}, "y2": {"datum": -47.81}}},
        {"data": {"values": [{}]}, "mark": {"type": "rule", "color": "#8c8c8c", "strokeWidth": 5}, "encoding": {"x": {"datum": -35.69}, "x2": {"datum": 96.74}, "y": {"datum": -47.81}}},
        {"data": {"name": "hip_l_band"}, "mark": {"type": "area", "color": "#e2e2e2"},
         "encoding": {
           "x": {"field": "pct", "type": "quantitative", "scale": {"domain": [0, 96.74], "nice": false, "zero": false},
                 "axis": {"values": [0, 20, 40, 60, 80], "labels": false, "title": null, "domain": false, "offset": 8, "tickSize": 26, "tickWidth": 5, "tickColor": "#3a3a3a", "grid": true, "gridWidth": 4,
                          "gridColor": {"condition": {"test": "datum.value === 0", "value": "#a6a6a6"}, "value": "#d8d8d8"}}},
           "y": {"field": "lo", "type": "quantitative", "scale": {"domain": [-40, 60], "nice": false, "zero": false},
                 "axis": {"values": [-40, -20, 0, 20, 40, 60], "labelExpr": "(datum.value < 0 ? '-' : '') + format(abs(datum.value), '.1f')", "title": null, "domain": false, "offset": 10, "tickSize": 28, "tickWidth": 6, "tickColor": "#3a3a3a", "grid": true, "gridWidth": 4,
                          "gridColor": {"condition": [{"test": "datum.value === 60", "value": "#a6a6a6"}, {"test": "datum.value === -40", "value": "transparent"}], "value": "#d8d8d8"}}},
           "y2": {"field": "hi"}}},
        {"data": {"name": "hip_l_lines"}, "transform": [{"filter": "datum.series === 'S1'"}], "mark": {"type": "line", "color": "#0000ff", "strokeWidth": 7}, "encoding": {"x": {"field": "pct", "type": "quantitative"}, "y": {"field": "angle", "type": "quantitative"}}},
        {"data": {"name": "hip_l_lines"}, "transform": [{"filter": "datum.series === 'S2'"}], "mark": {"type": "line", "color": "#ff2a00", "strokeWidth": 7}, "encoding": {"x": {"field": "pct", "type": "quantitative"}, "y": {"field": "angle", "type": "quantitative"}}},
        {"data": {"values": [{}]}, "mark": {"type": "rule", "color": "#ff2a00", "strokeWidth": 6}, "encoding": {"x": {"datum": 61.7}}},
        {"data": {"values": [{}]}, "mark": {"type": "rule", "color": "#0000ff", "strokeWidth": 6}, "encoding": {"x": {"datum": 62.6}}},
        {"data": {"values": [{}]}, "mark": {"type": "text", "font": "Liberation Serif", "fontWeight": "bold", "fontSize": 48, "align": "center", "baseline": "alphabetic", "color": "black"}, "encoding": {"x": {"datum": 45.47}, "y": {"datum": -42.71}, "text": {"value": "% Completion"}}}
      ]
    },
    {
      "width": 706, "height": 627,
      "layer": [
        {"data": {"values": [{}]}, "mark": {"type": "rect", "fill": "transparent", "stroke": "#dedede", "strokeWidth": 6}, "encoding": {"x": {"datum": -34.14}, "x2": {"datum": 105.81}, "y": {"datum": 46.51}, "y2": {"datum": -46.51}}},
        {"data": {"values": [{}]}, "mark": {"type": "rule", "color": "#8c8c8c", "strokeWidth": 5}, "encoding": {"x": {"datum": -34.14}, "x2": {"datum": 105.81}, "y": {"datum": -46.51}}},
        {"data": {"values": [{}]}, "mark": {"type": "rule", "color": "#8c8c8c", "strokeWidth": 5}, "encoding": {"x": {"datum": 105.81}, "y": {"datum": 46.51}, "y2": {"datum": -46.51}}},
        {"data": {"name": "ankle_r_band"}, "mark": {"type": "area", "color": "#e2e2e2"},
         "encoding": {
           "x": {"field": "pct", "type": "quantitative", "scale": {"domain": [0, 100], "nice": false, "zero": false},
                 "axis": {"values": [0, 20, 40, 60, 80, 100], "labels": false, "title": null, "domain": false, "offset": 8, "tickSize": 26, "tickWidth": 5, "tickColor": "#3a3a3a", "grid": true, "gridWidth": 4,
                          "gridColor": {"condition": [{"test": "datum.value === 0", "value": "#a6a6a6"}, {"test": "datum.value === 100", "value": "transparent"}], "value": "#d8d8d8"}}},
           "y": {"field": "lo", "type": "quantitative", "scale": {"domain": [-40, 40], "nice": false, "zero": false},
                 "axis": {"values": [-40, -20, 0, 20, 40], "labelExpr": "(datum.value < 0 ? '-' : '') + format(abs(datum.value), '.1f')", "title": null, "domain": false, "offset": 10, "tickSize": 28, "tickWidth": 6, "tickColor": "#3a3a3a", "grid": true, "gridWidth": 4,
                          "gridColor": {"condition": [{"test": "datum.value === 40", "value": "#a6a6a6"}, {"test": "datum.value === -40", "value": "transparent"}], "value": "#d8d8d8"}}},
           "y2": {"field": "hi"}}},
        {"data": {"name": "ankle_r_lines"}, "transform": [{"filter": "datum.series === 'S1'"}], "mark": {"type": "line", "color": "#0000ff", "strokeWidth": 7}, "encoding": {"x": {"field": "pct", "type": "quantitative"}, "y": {"field": "angle", "type": "quantitative"}}},
        {"data": {"name": "ankle_r_lines"}, "transform": [{"filter": "datum.series === 'S2'"}], "mark": {"type": "line", "color": "#ff2a00", "strokeWidth": 7}, "encoding": {"x": {"field": "pct", "type": "quantitative"}, "y": {"field": "angle", "type": "quantitative"}}},
        {"data": {"values": [{}]}, "mark": {"type": "rule", "color": "#ff2a00", "strokeWidth": 4}, "encoding": {"x": {"datum": 63.2}}},
        {"data": {"values": [{}]}, "mark": {"type": "rule", "color": "#0000ff", "strokeWidth": 4}, "encoding": {"x": {"datum": 63.1}, "y": {"datum": 16.4}, "y2": {"datum": 13.1}}},
        {"data": {"values": [{}]}, "mark": {"type": "text", "font": "Liberation Serif", "fontWeight": "bold", "fontSize": 63, "align": "center", "baseline": "alphabetic", "color": "black"}, "encoding": {"x": {"datum": -64.16}, "y": {"datum": 36.3}, "text": {"value": "Dorsiflexion"}}},
        {"data": {"values": [{}]}, "mark": {"type": "text", "font": "Liberation Serif", "fontWeight": "bold", "fontSize": 64, "align": "right", "baseline": "alphabetic", "color": "black"}, "encoding": {"x": {"datum": -37.33}, "y": {"datum": -38.09}, "text": {"value": "Plantarflexion"}}},
        {"data": {"values": [{}]}, "mark": {"type": "text", "font": "Liberation Serif", "fontWeight": "bold", "fontSize": 74, "align": "left", "baseline": "alphabetic", "color": "black"}, "encoding": {"x": {"datum": -32.58}, "y": {"datum": -53.78}, "text": {"value": "c. Ankle joint angles"}}},
        {"data": {"values": [{}]}, "mark": {"type": "text", "font": "Liberation Serif", "fontWeight": "bold", "fontSize": 46, "align": "center", "baseline": "middle", "angle": 270, "color": "black"}, "encoding": {"x": {"datum": -29.75}, "y": {"datum": 2.23}, "text": {"value": "Angle (º)"}}},
        {"data": {"values": [{}]}, "mark": {"type": "text", "font": "Liberation Serif", "fontWeight": "bold", "fontSize": 48, "align": "center", "baseline": "alphabetic", "color": "black"}, "encoding": {"x": {"datum": 44.97}, "y": {"datum": -42.55}, "text": {"value": "% Completion"}}}
      ]
    },
    {
      "width": 683, "height": 627,
      "layer": [
        {"data": {"values": [{}]}, "mark": {"type": "rect", "fill": "transparent", "stroke": "#dedede", "strokeWidth": 6}, "encoding": {"x": {"datum": -35.69}, "x2": {"datum": 96.74}, "y": {"datum": 46.51}, "y2": {"datum": -46.51}}},
        {"data": {"values": [{}]}, "mark": {"type": "rule", "color": "#8c8c8c", "strokeWidth": 5}, "encoding": {"x": {"datum": -35.69}, "x2": {"datum": 96.74}, "y": {"datum": -46.51}}},
        {"data": {"name": "ankle_l_band"}, "mark": {"type": "area", "color": "#e2e2e2"},
         "encoding": {
           "x": {"field": "pct", "type": "quantitative", "scale": {"domain": [0, 96.74], "nice": false, "zero": false},
                 "axis": {"values": [0, 20, 40, 60, 80], "labels": false, "title": null, "domain": false, "offset": 8, "tickSize": 26, "tickWidth": 5, "tickColor": "#3a3a3a", "grid": true, "gridWidth": 4,
                          "gridColor": {"condition": {"test": "datum.value === 0", "value": "#a6a6a6"}, "value": "#d8d8d8"}}},
           "y": {"field": "lo", "type": "quantitative", "scale": {"domain": [-40, 40], "nice": false, "zero": false},
                 "axis": {"values": [-40, -20, 0, 20, 40], "labelExpr": "(datum.value < 0 ? '-' : '') + format(abs(datum.value), '.1f')", "title": null, "domain": false, "offset": 10, "tickSize": 28, "tickWidth": 6, "tickColor": "#3a3a3a", "grid": true, "gridWidth": 4,
                          "gridColor": {"condition": [{"test": "datum.value === 40", "value": "#a6a6a6"}, {"test": "datum.value === -40", "value": "transparent"}], "value": "#d8d8d8"}}},
           "y2": {"field": "hi"}}},
        {"data": {"name": "ankle_l_lines"}, "transform": [{"filter": "datum.series === 'S1'"}], "mark": {"type": "line", "color": "#0000ff", "strokeWidth": 7}, "encoding": {"x": {"field": "pct", "type": "quantitative"}, "y": {"field": "angle", "type": "quantitative"}}},
        {"data": {"name": "ankle_l_lines"}, "transform": [{"filter": "datum.series === 'S2'"}], "mark": {"type": "line", "color": "#ff2a00", "strokeWidth": 7}, "encoding": {"x": {"field": "pct", "type": "quantitative"}, "y": {"field": "angle", "type": "quantitative"}}},
        {"data": {"values": [{}]}, "mark": {"type": "rule", "color": "#ff2a00", "strokeWidth": 6}, "encoding": {"x": {"datum": 61.6}}},
        {"data": {"values": [{}]}, "mark": {"type": "rule", "color": "#0000ff", "strokeWidth": 6}, "encoding": {"x": {"datum": 62.6}}},
        {"data": {"values": [{}]}, "mark": {"type": "text", "font": "Liberation Serif", "fontWeight": "bold", "fontSize": 48, "align": "center", "baseline": "alphabetic", "color": "black"}, "encoding": {"x": {"datum": 47.41}, "y": {"datum": -42.55}, "text": {"value": "% Completion"}}}
      ]
    }
  ]
}
